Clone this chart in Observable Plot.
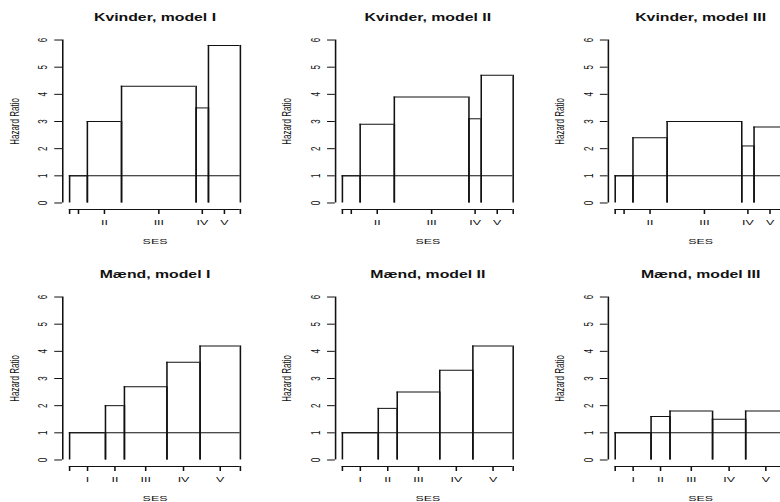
<!DOCTYPE html>
<html><head><meta charset="utf-8">
<script src="https://cdn.jsdelivr.net/npm/d3@7/dist/d3.min.js"></script>
<script src="https://cdn.jsdelivr.net/npm/@observablehq/plot@0.6/dist/plot.umd.min.js"></script>
<style>
html,body{margin:0;padding:0;background:#fff;}
#wrap{position:relative;width:780px;height:502px;overflow:hidden;background:#fff;}
#stage{position:absolute;left:0;top:0;width:528px;height:515px;transform:scale(1.55,1);transform-origin:0 0;}
.panel{position:absolute;}
#err{position:absolute;left:0;top:0;font:12px monospace;color:red;white-space:pre-wrap;}
</style></head><body><div id="wrap"><div id="stage"></div><div id="err"></div></div>
<script>
window.onerror = function(msg, src, line, col) { document.getElementById("err").textContent += msg + " @" + line + ":" + col + "\n"; };
</script>
<script>
// SES groups (bar order)
const sesGroups = ["I", "II", "III", "IV", "V"];
// Relative bar widths (share of population in each SES group)
const kvinderWidths = [0.104, 0.200, 0.437, 0.072, 0.187];
const maendWidths   = [0.210, 0.111, 0.249, 0.194, 0.236];
// Hazard ratios
const kvinderModel1 = [1, 3.0, 4.3, 3.5, 5.8];
const kvinderModel2 = [1, 2.9, 3.9, 3.1, 4.7];
const kvinderModel3 = [1, 2.4, 3.0, 2.1, 2.8];
const maendModel1   = [1, 2.0, 2.7, 3.6, 4.2];
const maendModel2   = [1, 1.9, 2.5, 3.3, 4.2];
const maendModel3   = [1, 1.6, 1.8, 1.5, 1.8];
// Titles
const kvinderTitles = ["Kvinder, model I", "Kvinder, model II", "Kvinder, model III"];
const maendTitles   = ["Mænd, model I", "Mænd, model II", "Mænd, model III"];
// Tick labels (R dropped the "I" label for women where it overlapped)
const kvinderTickLabels = ["", "II", "III", "IV", "V"];
const maendTickLabels   = ["I", "II", "III", "IV", "V"];
const yTicks = [0, 1, 2, 3, 4, 5, 6];
const xTitle = "SES";
const yTitle = "Hazard Ratio";
const refHR = 1;

const panels = [
  {title: kvinderTitles[0], widths: kvinderWidths, hr: kvinderModel1, labels: kvinderTickLabels, col: 0, row: 0},
  {title: kvinderTitles[1], widths: kvinderWidths, hr: kvinderModel2, labels: kvinderTickLabels, col: 1, row: 0},
  {title: kvinderTitles[2], widths: kvinderWidths, hr: kvinderModel3, labels: kvinderTickLabels, col: 2, row: 0},
  {title: maendTitles[0], widths: maendWidths, hr: maendModel1, labels: maendTickLabels, col: 0, row: 1},
  {title: maendTitles[1], widths: maendWidths, hr: maendModel2, labels: maendTickLabels, col: 1, row: 1},
  {title: maendTitles[2], widths: maendWidths, hr: maendModel3, labels: maendTickLabels, col: 2, row: 1}
];

const PW = 176, PH = 257, ROWSTEP = 257.4;
const xPad = 0.04, yPad = 0.24;
const ink = "#111";

function makePanel(p) {
  const cum = [0];
  p.widths.forEach((w, i) => cum.push(cum[i] + w));
  const bars = sesGroups.map((g, i) => ({group: g, x0: cum[i], x1: cum[i + 1], hr: p.hr[i]}));
  const xMin = cum[0], xMax = cum[cum.length - 1];
  const tickPos = [xMin, ...bars.map(b => (b.x0 + b.x1) / 2), xMax];
  const tickText = ["", ...p.labels, ""];
  const ticks = tickPos.map((x, i) => ({x, label: tickText[i]}));
  const yMin = d3.min(yTicks), yMax = d3.max(yTicks);
  const refLine = [{y: refHR, x1: xMin, x2: xMax}];
  const yAxisLine = [{x: xMin - xPad, y1: yMin, y2: yMax}];
  const xAxisLine = [{y: yMin - yPad, x1: xMin, x2: xMax}];
  return Plot.plot({
    width: PW, height: PH,
    marginLeft: 40, marginRight: 17, marginTop: 33, marginBottom: 48,
    x: {domain: [xMin - xPad, xMax + xPad], label: null},
    y: {domain: [yMin - yPad, yMax + yPad], label: null},
    style: {fontFamily: "'Liberation Sans', Arial, sans-serif", fontSize: "8px", color: ink, background: "transparent", overflow: "visible"},
    marks: [
      Plot.ruleY(refLine, {y: "y", x1: "x1", x2: "x2", stroke: ink}),
      Plot.ruleX(bars, {x: "x0", y1: () => 0, y2: "hr", stroke: ink}),
      Plot.ruleX(bars, {x: "x1", y1: () => 0, y2: "hr", stroke: ink}),
      Plot.ruleY(bars, {y: "hr", x1: "x0", x2: "x1", stroke: ink}),
      Plot.ruleX(yAxisLine, {x: "x", y1: "y1", y2: "y2", stroke: ink}),
      Plot.ruleY(xAxisLine, {y: "y", x1: "x1", x2: "x2", stroke: ink}),
      Plot.axisY({ticks: yTicks, tickSize: 5, tickFormat: () => "", label: null, stroke: ink}),
      Plot.axisX({ticks: tickPos, tickSize: 5, tickFormat: () => "", label: null, stroke: ink}),
      Plot.text(yTicks, {y: d => d, text: d => String(d), frameAnchor: "left", dx: -12.8, rotate: -90, textAnchor: "middle", lineAnchor: "middle", fill: ink}),
      Plot.text(ticks, {x: "x", text: "label", frameAnchor: "bottom", dy: 12.5, lineAnchor: "middle", fill: ink}),
      Plot.text([yTitle], {text: d => d, frameAnchor: "left", dx: -31, rotate: -90, textAnchor: "middle", lineAnchor: "middle", fill: ink}),
      Plot.text([xTitle], {text: d => d, frameAnchor: "bottom", dy: 31.7, lineAnchor: "middle", fill: ink}),
      Plot.text([p.title], {text: d => d, frameAnchor: "top", dy: -12.5, lineAnchor: "bottom", fontWeight: "bold", fontSize: 10.2, fill: ink})
    ]
  });
}

const stage = document.getElementById("stage");
for (const p of panels) {
  try {
    const div = document.createElement("div");
    div.className = "panel";
    div.style.left = (p.col * PW) + "px";
    div.style.top = (p.row * ROWSTEP) + "px";
    div.appendChild(makePanel(p));
    stage.appendChild(div);
  } catch (e) {
    document.getElementById("err").textContent += String(e && e.stack || e) + "\n";
  }
}
</script>
</body></html>
